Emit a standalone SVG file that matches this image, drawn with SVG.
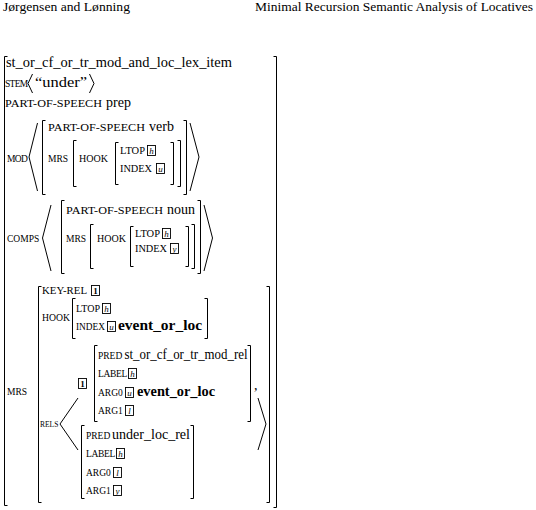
<svg xmlns="http://www.w3.org/2000/svg" width="536" height="510" viewBox="0 0 536 510">
<style>
text{font-family:"Liberation Serif","Times New Roman",serif;fill:#000}
.h{font-size:13px}
.t{font-size:14px}
.sc{font-size:9.5px}
.b{font-size:14px;font-weight:bold}
.tg{font-size:9px;font-style:italic;text-anchor:middle}
.tn{font-size:9px;font-weight:bold;text-anchor:middle}
.br{fill:none;stroke:#000;stroke-width:1}
.bx{fill:none;stroke:#000;stroke-width:.9}
</style>
<rect width="536" height="510" fill="#fff"/>
<g id="header">
<text class="h" x="3" y="11" textLength="127" lengthAdjust="spacingAndGlyphs">Jørgensen and Lønning</text>
<text class="h" x="255" y="11" textLength="278" lengthAdjust="spacingAndGlyphs">Minimal Recursion Semantic Analysis of Locatives</text>
</g>
<g id="outer">
<path class="br" d="M7.5,56.5H4.5V505.5H7.5"/>
<path class="br" d="M273.5,56.5H276.5V507.5H273.5"/>
<text class="t" x="6" y="67" textLength="226" lengthAdjust="spacingAndGlyphs">st_or_cf_or_tr_mod_and_loc_lex_item</text>
<text class="sc" x="5" y="87" style="letter-spacing:-.7px">STEM</text>
<path class="br" d="M32.5,74L28,83.5L32.5,93"/>
<text class="t" x="35" y="87" textLength="52" lengthAdjust="spacingAndGlyphs">“under”</text>
<path class="br" d="M89.5,74L94,83.5L89.5,93"/>
<text class="sc" x="5" y="107" textLength="97" lengthAdjust="spacingAndGlyphs">PART-OF-SPEECH</text>
<text class="t" x="106" y="107">prep</text>
</g>
<g id="mod">
<text class="sc" x="7" y="162" style="letter-spacing:-.6px">MOD</text>
<path class="br" d="M37.5,123L29,157L37.5,191"/>
<path class="br" d="M45.5,120.5H42.5V194.5H45.5"/>
<text class="sc" x="48" y="131" textLength="97" lengthAdjust="spacingAndGlyphs">PART-OF-SPEECH</text>
<text class="t" x="149" y="131">verb</text>
<text class="sc" x="48" y="162">MRS</text>
<path class="br" d="M76.5,140.5H73.5V186.5H76.5"/>
<text class="sc" x="79" y="162" textLength="29" lengthAdjust="spacingAndGlyphs">HOOK</text>
<path class="br" d="M118.5,142.5H115.5V184.5H118.5"/>
<text class="sc" x="120" y="154" textLength="25" lengthAdjust="spacingAndGlyphs">LTOP</text>
<rect class="bx" x="147.5" y="145.5" width="8" height="10"/>
<text class="tg" x="151.5" y="153.5">h</text>
<text class="sc" x="120" y="172" textLength="32" lengthAdjust="spacingAndGlyphs">INDEX</text>
<rect class="bx" x="156.5" y="163.5" width="8" height="10"/>
<text class="tg" x="160.5" y="171.5">u</text>
<path class="br" d="M170.5,142.5H173.5V184.5H170.5"/>
<path class="br" d="M177.5,140.5H180.5V186.5H177.5"/>
<path class="br" d="M183.5,120.5H186.5V194.5H183.5"/>
<path class="br" d="M190,123L199,157L190,191"/>
</g>
<g id="comps">
<text class="sc" x="7" y="242">COMPS</text>
<path class="br" d="M51,205L42.5,238L51,271"/>
<path class="br" d="M64.5,200.5H61.5V273.5H64.5"/>
<text class="sc" x="66" y="214" textLength="97" lengthAdjust="spacingAndGlyphs">PART-OF-SPEECH</text>
<text class="t" x="167" y="214">noun</text>
<text class="sc" x="66" y="242">MRS</text>
<path class="br" d="M93.5,224.5H90.5V268.5H93.5"/>
<text class="sc" x="97" y="242" textLength="29" lengthAdjust="spacingAndGlyphs">HOOK</text>
<path class="br" d="M133.5,226.5H130.5V266.5H133.5"/>
<text class="sc" x="135" y="237" textLength="25" lengthAdjust="spacingAndGlyphs">LTOP</text>
<rect class="bx" x="162.5" y="228.5" width="8" height="10"/>
<text class="tg" x="166.5" y="236.5">h</text>
<text class="sc" x="135" y="252" textLength="32" lengthAdjust="spacingAndGlyphs">INDEX</text>
<rect class="bx" x="170.5" y="243.5" width="8" height="10"/>
<text class="tg" x="174.5" y="251.5">y</text>
<path class="br" d="M185.5,226.5H188.5V266.5H185.5"/>
<path class="br" d="M191.5,224.5H194.5V268.5H191.5"/>
<path class="br" d="M197.5,200.5H200.5V273.5H197.5"/>
<path class="br" d="M204,205L212.5,238L204,271"/>
</g>
<g id="mrs">
<text class="sc" x="7" y="395">MRS</text>
<path class="br" d="M41.5,286.5H38.5V502.5H41.5"/>
<path class="br" d="M266.5,286.5H269.5V502.5H266.5"/>
<text class="sc" x="42" y="294" textLength="45" lengthAdjust="spacingAndGlyphs">KEY-REL</text>
<rect class="bx" x="91.5" y="285.5" width="8" height="10"/>
<text class="tn" x="95.5" y="293.5">1</text>
<text class="sc" x="42" y="321" textLength="28" lengthAdjust="spacingAndGlyphs">HOOK</text>
<path class="br" d="M75.5,298.5H72.5V338.5H75.5"/>
<text class="sc" x="76" y="312" textLength="24" lengthAdjust="spacingAndGlyphs">LTOP</text>
<rect class="bx" x="102.5" y="303.5" width="8" height="10"/>
<text class="tg" x="106.5" y="311.5">h</text>
<text class="sc" x="76" y="330" textLength="29" lengthAdjust="spacingAndGlyphs">INDEX</text>
<rect class="bx" x="107.5" y="321.5" width="8" height="10"/>
<text class="tg" x="111.5" y="329.5">u</text>
<text class="b" x="118" y="330" textLength="84" lengthAdjust="spacingAndGlyphs">event_or_loc</text>
<path class="br" d="M204.5,298.5H207.5V338.5H204.5"/>
<text class="sc" x="40" y="427" style="font-size:7.5px">RELS</text>
<path class="br" d="M78,398L60,424L78,450"/>
<rect class="bx" x="78.5" y="378.5" width="8" height="10"/>
<text class="tn" x="82.5" y="386.5">1</text>
<path class="br" d="M97.5,345.5H94.5V421.5H97.5"/>
<text class="sc" x="98" y="359">PRED</text>
<text class="t" x="124.5" y="359" textLength="123" lengthAdjust="spacingAndGlyphs">st_or_cf_or_tr_mod_rel</text>
<text class="sc" x="98" y="377" style="letter-spacing:-.3px">LABEL</text>
<rect class="bx" x="128.5" y="368.5" width="8" height="10"/>
<text class="tg" x="132.5" y="376.5">h</text>
<text class="sc" x="98" y="396">ARG0</text>
<rect class="bx" x="125.5" y="387.5" width="8" height="10"/>
<text class="tg" x="129.5" y="395.5">u</text>
<text class="b" x="137" y="396" textLength="78" lengthAdjust="spacingAndGlyphs">event_or_loc</text>
<text class="sc" x="98" y="414">ARG1</text>
<rect class="bx" x="125.5" y="405.5" width="8" height="10"/>
<text class="tg" x="129.5" y="413.5">l</text>
<path class="br" d="M247.5,345.5H250.5V421.5H247.5"/>
<text class="t" x="254" y="390">,</text>
<path class="br" d="M84.5,425.5H81.5V498.5H84.5"/>
<text class="sc" x="86" y="439">PRED</text>
<text class="t" x="112" y="439" textLength="78" lengthAdjust="spacingAndGlyphs">under_loc_rel</text>
<text class="sc" x="86" y="457" style="letter-spacing:-.3px">LABEL</text>
<rect class="bx" x="116.5" y="448.5" width="8" height="10"/>
<text class="tg" x="120.5" y="456.5">h</text>
<text class="sc" x="86" y="476">ARG0</text>
<rect class="bx" x="113.5" y="467.5" width="8" height="10"/>
<text class="tg" x="117.5" y="475.5">l</text>
<text class="sc" x="86" y="494">ARG1</text>
<rect class="bx" x="113.5" y="485.5" width="8" height="10"/>
<text class="tg" x="117.5" y="493.5">y</text>
<path class="br" d="M190.5,425.5H193.5V498.5H190.5"/>
<path class="br" d="M258,398L266,424L258,450"/>
</g>
</svg>
